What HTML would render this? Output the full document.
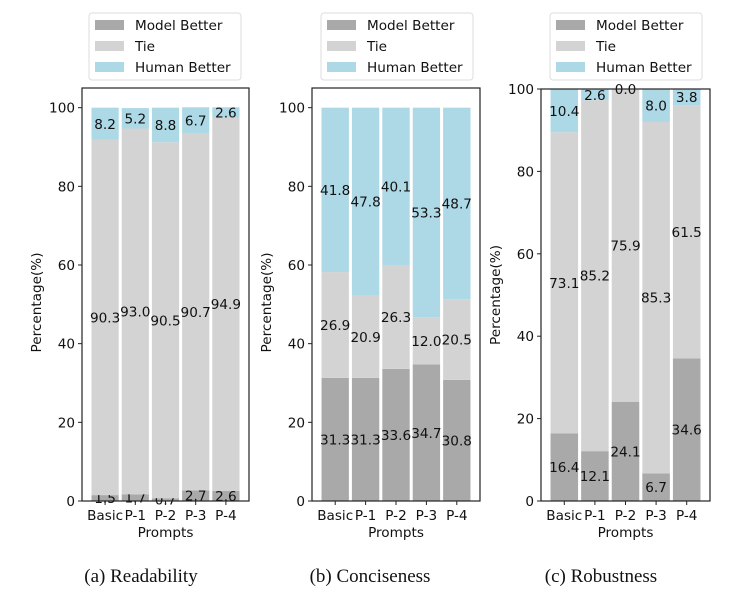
<!DOCTYPE html>
<html><head><meta charset="utf-8">
<style>
html,body{margin:0;padding:0;background:#fff;}
svg{display:block;}
text{font-family:"DejaVu Sans","Liberation Sans",sans-serif;fill:#111;}
.cap{font-family:"Liberation Serif",serif;font-size:19px;}
</style></head>
<body>
<svg id="chart" width="734" height="602" viewBox="0 0 734 602" xmlns="http://www.w3.org/2000/svg"></svg>
<script>
const categories = ["Basic","P-1","P-2","P-3","P-4"];
const readModel = [1.5,1.7,0.7,2.7,2.6];
const readTie = [90.3,93.0,90.5,90.7,94.9];
const readHuman = [8.2,5.2,8.8,6.7,2.6];
const concModel = [31.3,31.3,33.6,34.7,30.8];
const concTie = [26.9,20.9,26.3,12.0,20.5];
const concHuman = [41.8,47.8,40.1,53.3,48.7];
const robModel = [16.4,12.1,24.1,6.7,34.6];
const robTie = [73.1,85.2,75.9,85.3,61.5];
const robHuman = [10.4,2.6,0.0,8.0,3.8];
const yTicks = [0,20,40,60,80,100];
const seriesNames = ["Model Better","Tie","Human Better"];

const colors = ["#a9a9a9","#d3d3d3","#add8e6"];
const NS = "http://www.w3.org/2000/svg";
const svg = document.getElementById("chart");
function mk(tag, attrs, parent){const e=document.createElementNS(NS,tag);for(const k in attrs)e.setAttribute(k,attrs[k]);(parent||svg).appendChild(e);return e;}

const panels = [
  {key:"readability", left:82, right:249, top:88, ymax:105, series:[readModel,readTie,readHuman], legX:89, cap:"(a)  Readability", capX:141},
  {key:"conciseness", left:312, right:480, top:88, ymax:105, series:[concModel,concTie,concHuman], legX:321, cap:"(b)  Conciseness", capX:370},
  {key:"robustness", left:541, right:710, top:89, ymax:100, series:[robModel,robTie,robHuman], legX:550, cap:"(c)  Robustness", capX:601}
];
const bottom = 501;
const FS = "13.6";

panels.forEach(p=>{
  const g = mk("g",{});
  
  
  const yScale = v => bottom - v/p.ymax*(bottom-p.top);
  const step = (p.right-p.left-16)/categories.length;
  const bw = step*0.9;
  const xScale = i => p.left + 8 + step*i + step*0.05;
  categories.forEach((c,i)=>{
    let acc=0;
    p.series.forEach((s,si)=>{
      const v=s[i];
      const r = mk("rect",{x:xScale(i),y:yScale(acc+v),width:bw,height:Math.max(0,yScale(acc)-yScale(acc+v)),fill:colors[si]},g);
      
      
      const t = mk("text",{x:xScale(i)+bw/2,y:yScale(acc+v/2)+5,"text-anchor":"middle","font-size":FS},g);
      t.textContent=v.toFixed(1);
      
      
      acc+=v;
    });
    mk("line",{x1:xScale(i)+bw/2,x2:xScale(i)+bw/2,y1:bottom,y2:bottom+4,stroke:"#222"},g);
    const xl = mk("text",{x:xScale(i)+bw/2,y:bottom+19,"text-anchor":"middle","font-size":FS},g);
    xl.textContent=c;
    
    
  });
  yTicks.forEach(t=>{
    const y=yScale(t);
    mk("line",{x1:p.left-4,x2:p.left,y1:y,y2:y,stroke:"#222"},g);
    const tl = mk("text",{x:p.left-7,y:y+5,"text-anchor":"end","font-size":FS},g);
    tl.textContent=t;
    
    
  });
  const fr = mk("rect",{x:p.left,y:p.top,width:p.right-p.left,height:bottom-p.top,fill:"none",stroke:"#222","stroke-width":"1.2"},g);
  
  
  const xt = mk("text",{x:(p.left+p.right)/2,y:537,"text-anchor":"middle","font-size":FS},g);
  xt.textContent="Prompts";
  
  
  const yx=p.left-41, yy=(p.top+bottom)/2+(p.ymax===100?0:8);
  const yt = mk("text",{x:yx,y:yy,"text-anchor":"middle","font-size":FS,transform:`rotate(-90 ${yx} ${yy})`},g);
  yt.textContent="Percentage(%)";
  
  
  const lg = mk("g",{},g);
  
  
  mk("rect",{x:p.legX,y:13,width:152,height:67,rx:3,fill:"#fff",stroke:"#ddd"},lg);
  seriesNames.forEach((n,si)=>{
    const yy2=25+si*21;
    mk("rect",{x:p.legX+6,y:yy2-5,width:29,height:10,fill:colors[si]},lg);
    const lt = mk("text",{x:p.legX+46,y:yy2+5,"font-size":FS},lg);
    lt.textContent=n;
    
    
  });
  const cp = mk("text",{x:p.capX,y:582,"text-anchor":"middle",class:"cap"},svg);
  cp.textContent=p.cap;
  
  
});
</script>
</body></html>
